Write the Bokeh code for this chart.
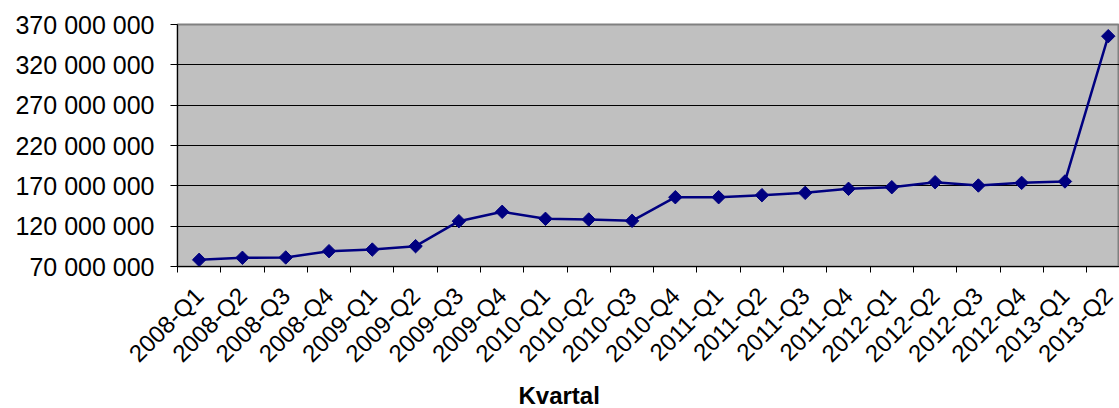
import math
from bokeh.plotting import figure
from bokeh.models import Range1d, FixedTicker, Title
from bokeh.embed import file_html
from bokeh.resources import INLINE

categories = ["2008-Q1", "2008-Q2", "2008-Q3", "2008-Q4",
              "2009-Q1", "2009-Q2", "2009-Q3", "2009-Q4",
              "2010-Q1", "2010-Q2", "2010-Q3", "2010-Q4",
              "2011-Q1", "2011-Q2", "2011-Q3", "2011-Q4",
              "2012-Q1", "2012-Q2", "2012-Q3", "2012-Q4",
              "2013-Q1", "2013-Q2"]
values = [78300000, 80800000, 81200000, 89000000,
          91000000, 95200000, 126200000, 137800000,
          129100000, 128300000, 126600000, 155900000,
          155900000, 158400000, 161300000, 166300000,
          168300000, 174500000, 170400000, 173700000,
          175400000, 355500000]
y_ticks = [70000000, 120000000, 170000000, 220000000, 270000000, 320000000, 370000000]
y_tick_labels = ["70 000 000", "120 000 000", "170 000 000", "220 000 000",
                 "270 000 000", "320 000 000", "370 000 000"]
x_title = "Kvartal"

xs = [i + 0.5 for i in range(len(categories))]

FONT = "Liberation Sans"

p = figure(frame_width=942, frame_height=242,
           min_border_left=177, min_border_right=0, min_border_top=24,
           min_border_bottom=0,
           x_range=Range1d(0, 21.76), y_range=Range1d(70000000, 370000000),
           output_backend="svg", toolbar_location=None,
           background_fill_color="#C0C0C0", border_fill_color="white")

p.outline_line_color = "#808080"
p.outline_line_width = 2

p.line(xs, values, line_color="#000080", line_width=2.5)
p.scatter(xs, values, marker="square", angle=math.pi/4, size=9.5,
          fill_color="#000080", line_color="#000080")

# Y axis
p.yaxis.ticker = FixedTicker(ticks=y_ticks, minor_ticks=[])
p.yaxis.major_label_overrides = {t: l for t, l in zip(y_ticks, y_tick_labels)}
p.yaxis.major_label_text_font = FONT
p.yaxis.major_label_text_font_size = "25px"
p.yaxis.major_label_text_color = "black"
p.yaxis.major_tick_out = 7
p.yaxis.major_tick_in = 0
p.yaxis.major_label_standoff = 16
p.yaxis.axis_line_color = "black"
p.yaxis.major_tick_line_color = "black"

# X axis
p.xaxis.ticker = FixedTicker(ticks=xs, minor_ticks=list(range(len(categories) + 1)))
p.xaxis.major_label_overrides = {x: c for x, c in zip(xs, categories)}
p.xaxis.major_label_orientation = math.pi / 4
p.xaxis.major_label_text_font = FONT
p.xaxis.major_label_text_font_size = "24px"
p.xaxis.major_label_text_color = "black"
p.xaxis.major_tick_out = 0
p.xaxis.major_tick_in = 0
p.xaxis.minor_tick_out = 6
p.xaxis.minor_tick_in = 0
p.xaxis.minor_tick_line_color = "black"
p.xaxis.major_label_standoff = 19
p.xaxis.axis_line_color = "black"

p.xgrid.grid_line_color = None
p.ygrid.ticker = FixedTicker(ticks=y_ticks)
p.ygrid.grid_line_color = "black"
p.ygrid.grid_line_width = 1

p.add_layout(Title(text=x_title, align="left", offset=341, standoff=0,
                   text_line_height=1.0,
                   text_font=FONT, text_font_style="bold",
                   text_font_size="24px", text_color="black"), "below")

open("out.html", "w").write(file_html(p, INLINE))
